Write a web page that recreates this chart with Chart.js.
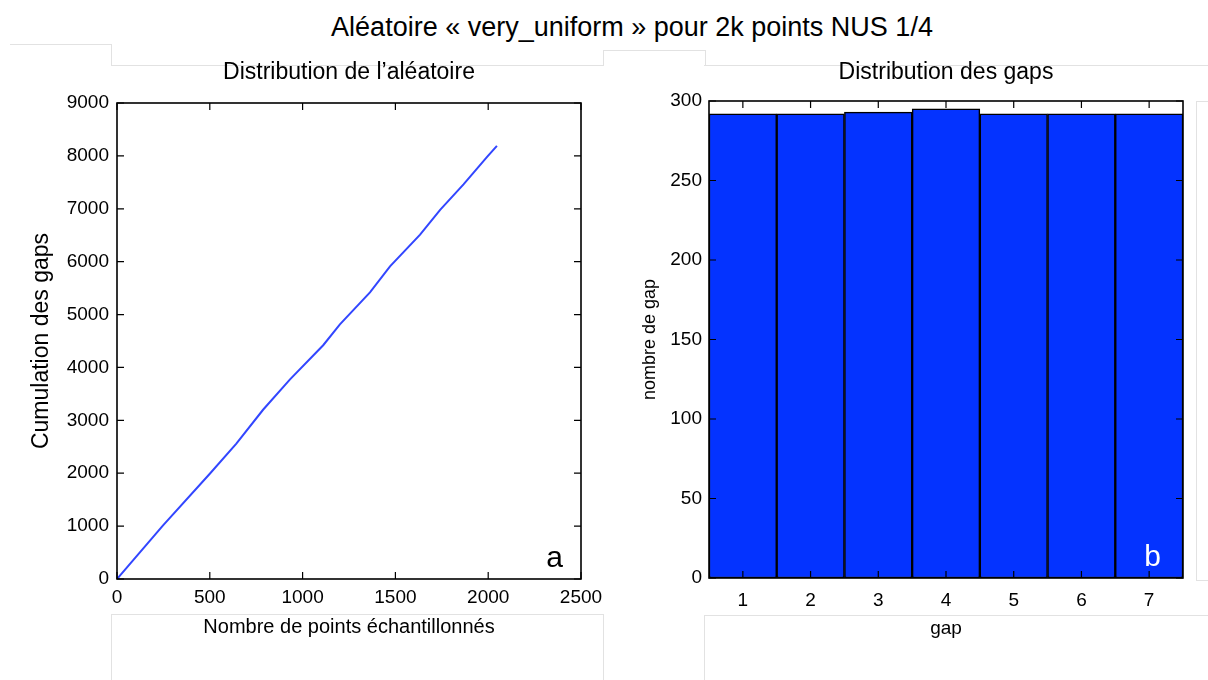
<!DOCTYPE html>
<html>
<head>
<meta charset="utf-8">
<script src="https://cdn.jsdelivr.net/npm/chart.js@4/dist/chart.umd.min.js"></script>
<style>
  body { margin: 0; width: 1208px; height: 680px; background: #fff; position: relative; overflow: hidden; font-family: "Liberation Sans", Arial, sans-serif; }
  #sup { position: absolute; left: 56px; top: 11px; width: 1152px; text-align: center; font-size: 27px; line-height: 32px; color: #000; }
  canvas { position: absolute; }
  .fr { position: absolute; border-color: #e2e2e2; border-style: solid; border-width: 0; }
</style>
</head>
<body>
<div id="sup">Aléatoire « very_uniform » pour 2k points NUS 1/4</div>

<!-- faint frames around the panels -->
<div class="fr" style="left:10px;top:44px;width:101px;height:0;border-top-width:1px"></div>
<div class="fr" style="left:111px;top:44px;width:0;height:21px;border-left-width:1px"></div>
<div class="fr" style="left:111px;top:65px;width:492px;height:0;border-top-width:1px"></div>
<div class="fr" style="left:603px;top:50px;width:101px;height:15px;border-width:1px 1px 0 1px"></div>
<div class="fr" style="left:704px;top:65px;width:504px;height:0;border-top-width:1px"></div>
<div class="fr" style="left:1196px;top:101px;width:20px;height:478px;border-width:1px 0 1px 1px"></div>
<div class="fr" style="left:111px;top:614px;width:491px;height:80px;border-width:1px 1px 0 1px"></div>
<div class="fr" style="left:704px;top:615px;width:520px;height:80px;border-width:1px 0 0 1px"></div>

<canvas id="left" width="610" height="600" style="left:0;top:50px"></canvas>
<canvas id="right" width="608" height="600" style="left:600px;top:50px"></canvas>

<script>
// left panel: cumulated gaps vs number of sampled points
const cumulX = [0, 247, 500, 643, 787, 931, 1111, 1201, 1363, 1471, 1633, 1741, 1867, 1994, 2047];
const cumulY = [0, 1010, 1990, 2560, 3200, 3770, 4420, 4815, 5420, 5910, 6510, 6980, 7460, 7980, 8190];

// right panel: histogram of gaps
const gapLabels = ["1", "2", "3", "4", "5", "6", "7"];
const gapCounts = [292, 292, 293, 295, 292, 292, 292];

const FONT = "Liberation Sans";

// matplotlib-like box with inward ticks and corner letter
const frameBox = {
  id: "frameBox",
  afterDatasetsDraw(chart, args, opts) {
    const { ctx, chartArea: a } = chart;
    const xs = chart.scales[opts.tickScale];
    const ys = chart.scales.y;
    ctx.save();
    ctx.strokeStyle = "#000";
    ctx.lineWidth = 1.2;
    ctx.beginPath();
    xs.ticks.forEach(t => {
      const px = xs.getPixelForValue(t.value);
      ctx.moveTo(px, a.bottom); ctx.lineTo(px, a.bottom - 7);
      ctx.moveTo(px, a.top); ctx.lineTo(px, a.top + 7);
    });
    ys.ticks.forEach(t => {
      const py = ys.getPixelForValue(t.value);
      ctx.moveTo(a.left, py); ctx.lineTo(a.left + 7, py);
      ctx.moveTo(a.right, py); ctx.lineTo(a.right - 7, py);
    });
    ctx.stroke();
    ctx.lineWidth = 1.6;
    ctx.strokeRect(a.left, a.top, a.width, a.height);
    ctx.font = "30px " + FONT;
    ctx.fillStyle = opts.letterColor;
    ctx.textAlign = "right";
    ctx.textBaseline = "alphabetic";
    ctx.fillText(opts.letter, a.right - opts.dx, a.bottom - 12);
    ctx.restore();
  }
};

const tickFont = { family: FONT, size: 19 };
const plain = { useGrouping: false };

new Chart(document.getElementById("left"), {
  type: "line",
  data: {
    datasets: [{
      data: cumulX.map((x, i) => ({ x: x, y: cumulY[i] })),
      borderColor: "rgb(50,70,255)",
      borderWidth: 2,
      pointRadius: 0,
      tension: 0,
      fill: false
    }]
  },
  options: {
    responsive: false,
    animation: false,
    devicePixelRatio: 1,
    layout: { padding: { right: 29 } },
    plugins: {
      legend: { display: false },
      tooltip: { enabled: false },
      title: {
        display: true, text: "Distribution de l’aléatoire", color: "#000",
        font: { family: FONT, size: 23, weight: "normal" },
        fullSize: false, padding: { top: 9.2, bottom: 16.2 }
      },
      frameBox: { tickScale: "x", letter: "a", letterColor: "#000", dx: 18 }
    },
    scales: {
      x: {
        type: "linear", min: 0, max: 2500,
        ticks: { stepSize: 500, format: plain, color: "#000", font: tickFont, padding: 7, maxRotation: 0 },
        grid: { display: false, drawTicks: false },
        border: { display: false },
        title: { display: true, text: "Nombre de points échantillonnés", color: "#000", font: { family: FONT, size: 20 }, padding: { top: 0, bottom: 11 } },
        afterFit(s) { s.height = 71; }
      },
      y: {
        min: 0, max: 9000,
        ticks: { stepSize: 1000, format: plain, color: "#000", font: tickFont, padding: 8 },
        grid: { display: false, drawTicks: false },
        border: { display: false },
        title: { display: true, text: "Cumulation des gaps", color: "#000", font: { family: FONT, size: 23 }, padding: { top: 28.2, bottom: 0 } },
        afterFit(s) { s.width = 117; }
      }
    }
  },
  plugins: [frameBox]
});

new Chart(document.getElementById("right"), {
  type: "bar",
  data: {
    labels: gapLabels,
    datasets: [{
      data: gapCounts,
      backgroundColor: "#0433ff",
      borderColor: "#000",
      borderWidth: 1.5,
      borderSkipped: false,
      barPercentage: 1,
      categoryPercentage: 1
    }]
  },
  options: {
    responsive: false,
    animation: false,
    devicePixelRatio: 1,
    layout: { padding: { right: 25 } },
    plugins: {
      legend: { display: false },
      tooltip: { enabled: false },
      title: {
        display: true, text: "Distribution des gaps", color: "#000",
        font: { family: FONT, size: 23, weight: "normal" },
        fullSize: false, padding: { top: 9.2, bottom: 14.2 }
      },
      frameBox: { tickScale: "xt", letter: "b", letterColor: "#fff", dx: 22 }
    },
    scales: {
      x: {
        ticks: { color: "#000", font: tickFont, padding: 11.6, maxRotation: 0 },
        grid: { display: false, drawTicks: false },
        border: { display: false },
        title: { display: true, text: "gap", color: "#000", font: { family: FONT, size: 19 }, padding: { top: 0, bottom: 9.6 } },
        afterFit(s) { s.height = 72; }
      },
      xt: {
        type: "linear", display: false, min: 1, max: 7,
        ticks: { stepSize: 1 }
      },
      y: {
        min: 0, max: 300,
        ticks: { stepSize: 50, format: plain, color: "#000", font: tickFont, padding: 7 },
        grid: { display: false, drawTicks: false },
        border: { display: false },
        title: { display: true, text: "nombre de gap", color: "#000", font: { family: FONT, size: 18 }, padding: { top: 39.2, bottom: 0 } },
        afterFit(s) { s.width = 109; }
      }
    }
  },
  plugins: [frameBox]
});
</script>
</body>
</html>
